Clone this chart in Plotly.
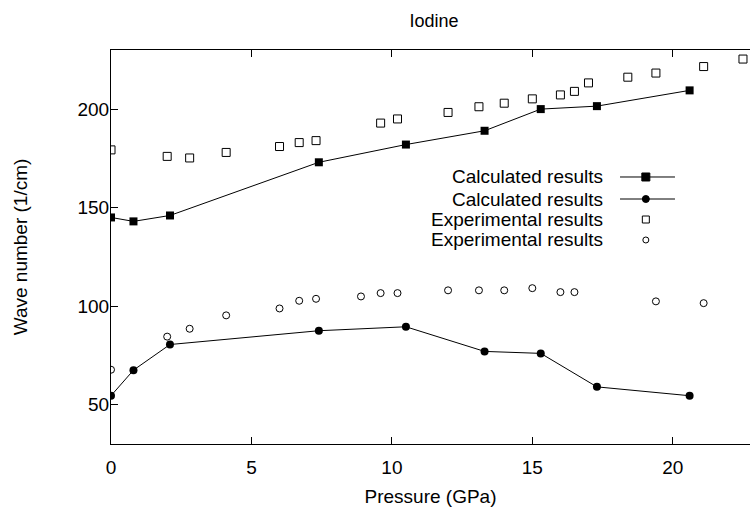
import plotly.graph_objects as go

# ---- data ----
calc_sq_x = [0.0, 0.8, 2.1, 7.4, 10.5, 13.3, 15.3, 17.3, 20.6]
calc_sq_y = [145, 143, 146, 173, 182, 189, 200, 201.5, 209.5]

calc_ci_x = [0.0, 0.8, 2.1, 7.4, 10.5, 13.3, 15.3, 17.3, 20.6]
calc_ci_y = [54.5, 67.5, 80.5, 87.5, 89.5, 77, 76, 59, 54.5]

exp_sq_x = [0.0, 2.0, 2.8, 4.1, 6.0, 6.7, 7.3, 9.6, 10.2, 12.0, 13.1, 14.0, 15.0, 16.0, 16.5, 17.0, 18.4, 19.4, 21.1, 22.5]
exp_sq_y = [179.3, 176, 175.2, 178, 181, 183, 184, 192.9, 195, 198.3, 201.2, 203, 205.2, 207.2, 209, 213.3, 216.2, 218.3, 221.6, 225.4]

exp_ci_x = [0.0, 2.0, 2.8, 4.1, 6.0, 6.7, 7.3, 8.9, 9.6, 10.2, 12.0, 13.1, 14.0, 15.0, 16.0, 16.5, 19.4, 21.1]
exp_ci_y = [67.7, 84.5, 88.5, 95.3, 98.8, 102.7, 103.7, 104.9, 106.6, 106.6, 108, 108, 108, 109.1, 107.1, 107.1, 102.4, 101.5]

x_ticks = [0, 5, 10, 15, 20]
y_ticks = [50, 100, 150, 200]

legend_labels = ["Calculated results", "Calculated results",
                 "Experimental results", "Experimental results"]

FONT = "Liberation Sans, Arial, Helvetica, sans-serif"

fig = go.Figure()

fig.add_trace(go.Scatter(x=calc_sq_x, y=calc_sq_y, mode="lines+markers",
                         line=dict(color="black", width=1),
                         marker=dict(symbol="square", size=8, color="black"),
                         showlegend=False))
fig.add_trace(go.Scatter(x=calc_ci_x, y=calc_ci_y, mode="lines+markers",
                         line=dict(color="black", width=1),
                         marker=dict(symbol="circle", size=8, color="black"),
                         showlegend=False))
fig.add_trace(go.Scatter(x=exp_sq_x, y=exp_sq_y, mode="markers",
                         marker=dict(symbol="square-open", size=8, color="black",
                                     line=dict(width=1)),
                         showlegend=False))
fig.add_trace(go.Scatter(x=exp_ci_x, y=exp_ci_y, mode="markers",
                         marker=dict(symbol="circle-open", size=7, color="black",
                                     line=dict(width=1)),
                         showlegend=False))

# ---- custom legend (text on the left, key on the right) ----
leg_text_x = 0.773
leg_key_x0, leg_key_xm, leg_key_x1 = 0.7966, 0.837, 0.8826
leg_rows_y = [0.6777, 0.6218, 0.5698, 0.5178]
leg_styles = [
    dict(line=True, symbol="square", size=8),
    dict(line=True, symbol="circle", size=7),
    dict(line=False, symbol="square-open", size=7),
    dict(line=False, symbol="circle-open", size=6),
]
for label, ry, st in zip(legend_labels, leg_rows_y, leg_styles):
    fig.add_annotation(xref="paper", yref="paper", x=leg_text_x, y=ry,
                       text=label, showarrow=False, xanchor="right", yanchor="middle",
                       font=dict(family=FONT, size=19, color="black"))
    if st["line"]:
        fig.add_shape(type="line", xref="paper", yref="paper",
                      x0=leg_key_x0, x1=leg_key_x1, y0=ry, y1=ry,
                      line=dict(color="black", width=1))
    fig.add_trace(go.Scatter(x=[leg_key_xm], y=[ry], xaxis="x2", yaxis="y2",
                             mode="markers",
                             marker=dict(symbol=st["symbol"], size=st["size"],
                                         color="black", line=dict(width=1, color="black")),
                             showlegend=False, hoverinfo="skip"))

fig.update_layout(
    width=750, height=507,
    margin=dict(l=111, r=0, t=50, b=63),
    paper_bgcolor="white", plot_bgcolor="white",
    font=dict(family=FONT, size=19, color="black"),
    title=dict(text="Iodine", x=0.5787, xanchor="center", y=0.9586, yanchor="middle",
               font=dict(family=FONT, size=18, color="black")),
    xaxis=dict(range=[0, 22.75], tickvals=x_ticks, ticks="inside", ticklen=7,
               tickcolor="black", showline=True, linecolor="black", linewidth=1,
               mirror="ticks", showgrid=False, zeroline=False, automargin=False,
               ticklabelstandoff=6,
               title=dict(text="Pressure (GPa)", standoff=15,
                          font=dict(family=FONT, size=19))),
    yaxis=dict(range=[30, 230], tickvals=y_ticks, ticks="inside", ticklen=7,
               tickcolor="black", showline=True, linecolor="black", linewidth=1,
               mirror=False, showgrid=False, zeroline=False, automargin=False,
               ticklabelstandoff=-3,
               title=dict(text="Wave number (1/cm)", standoff=44,
                          font=dict(family=FONT, size=19))),
    xaxis2=dict(range=[0, 1], overlaying="x", visible=False, fixedrange=True),
    yaxis2=dict(range=[0, 1], overlaying="y", visible=False, fixedrange=True),
)

fig.write_html("out.html", config={"displayModeBar": False},
               post_script="document.body.style.margin='0';")
